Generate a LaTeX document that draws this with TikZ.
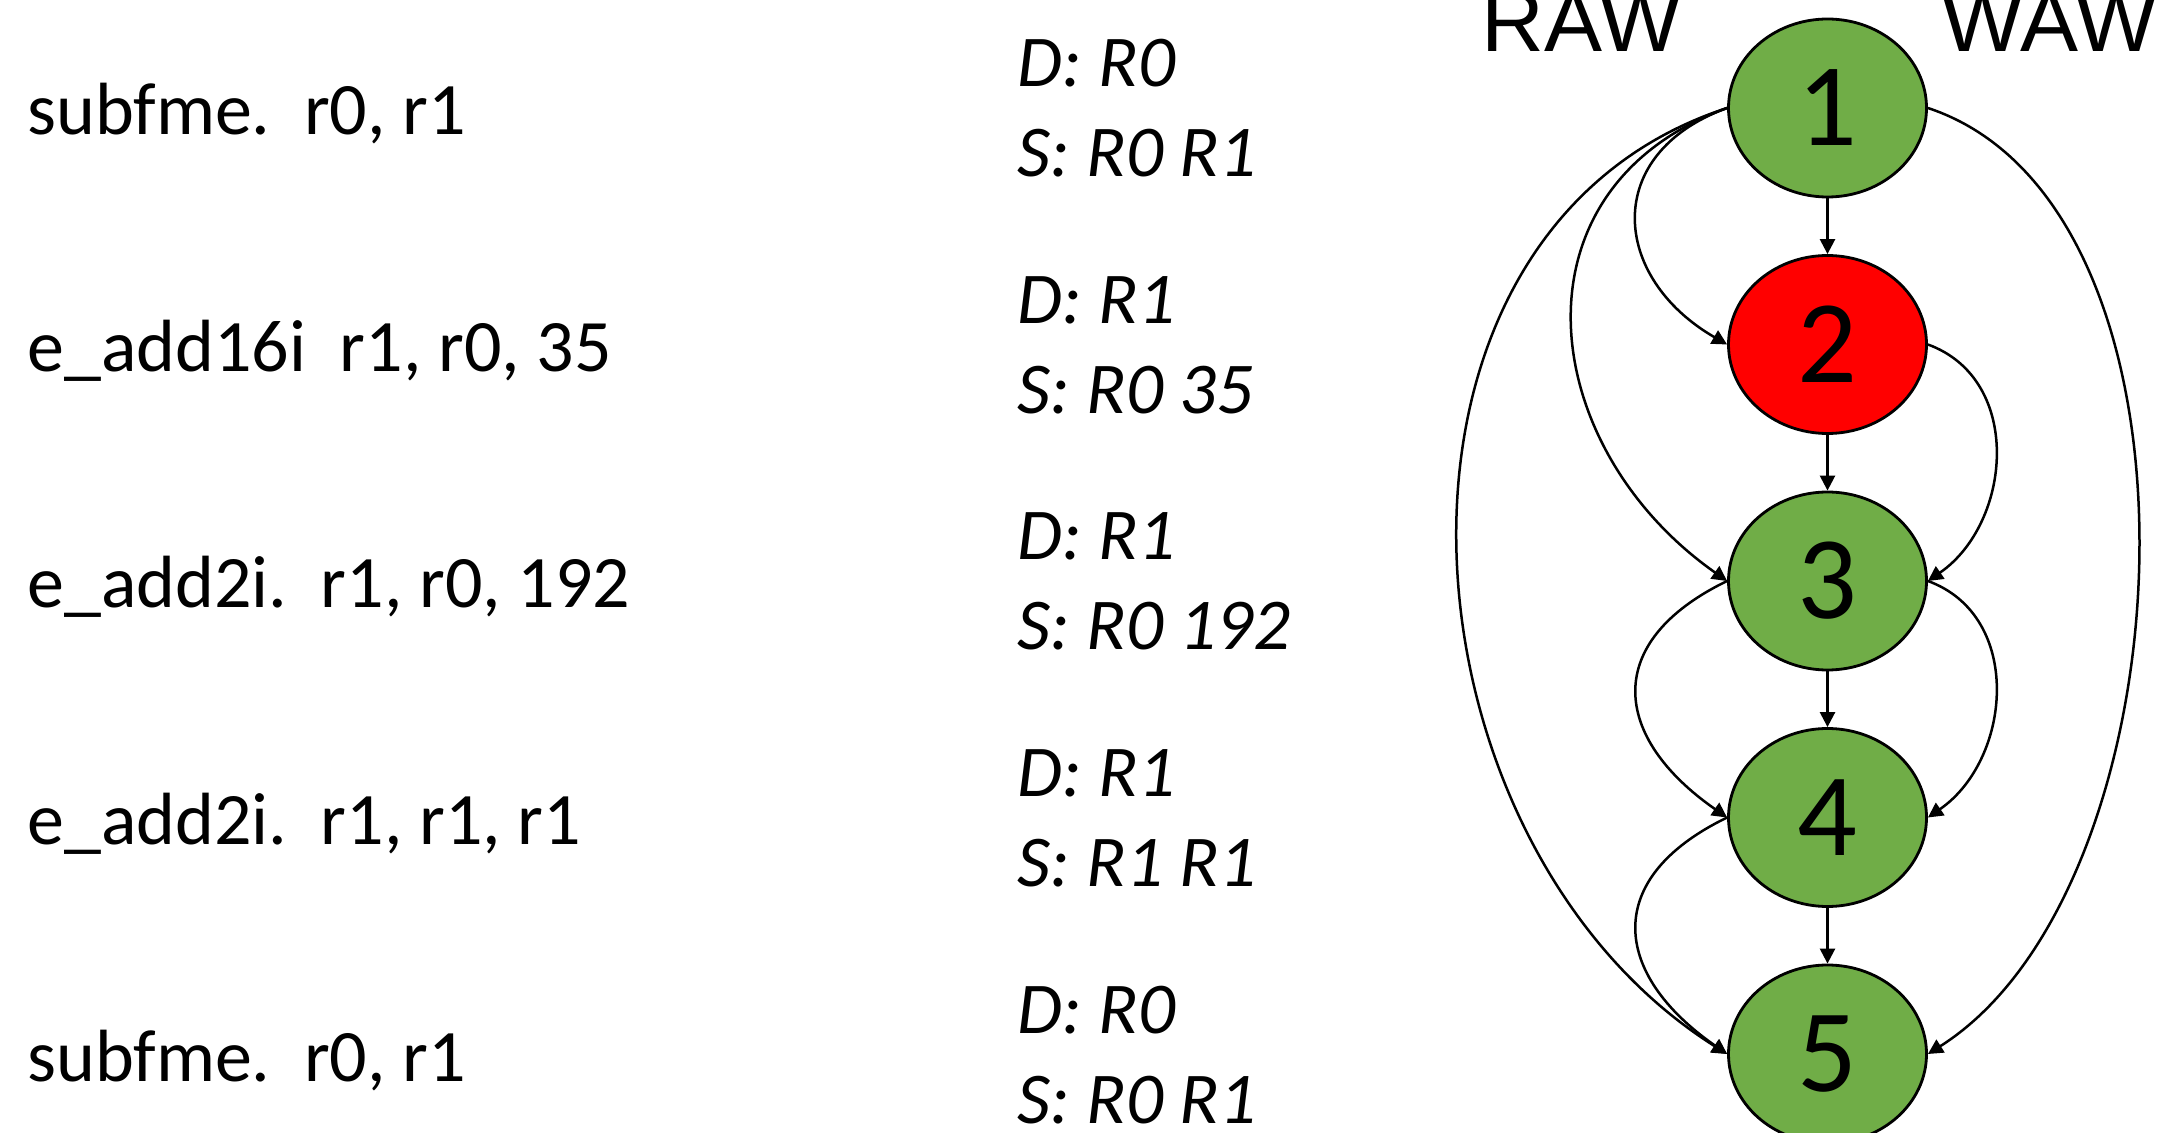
\documentclass[tikz,border=0pt]{standalone}
\usepackage{fontspec}
\setmainfont{Carlito}
\newfontfamily\arialfont{Liberation Sans}
\usetikzlibrary{shapes.geometric,arrows.meta}
\definecolor{ngreen}{HTML}{70AD47}
\definecolor{nred}{HTML}{FF0000}
\begin{document}
\begin{tikzpicture}[x=0.5pt,y=-0.5pt,
  gnode/.style={ellipse, draw=black, line width=1.4pt, minimum width=99pt, minimum height=89pt, inner sep=0pt, font=\fontsize{59}{59}\selectfont},
  edge/.style={line width=1.25pt, -{Triangle[length=7.5pt,width=7.5pt]}},
  instr/.style={anchor=base west, inner sep=0pt, font=\fontsize{37}{37}\selectfont},
  dep/.style={anchor=base west, inner sep=0pt, font=\fontsize{36.5}{36.5}\selectfont\itshape},
  hdr/.style={anchor=base west, inner sep=0pt, font=\arialfont\fontsize{43.5}{43.5}\selectfont}]
\useasboundingbox (0,0) rectangle (2175,1133);

% instructions
\node[instr] (i1) at (27,135) {subfme.\ \ r0, r1};
\node[instr] (i2) at (27,371.5) {e\_add16i\ \ r1, r0, 35};
\node[instr] (i3) at (27,608) {e\_add2i.\ \ r1, r0, 192};
\node[instr] (i4) at (27,844.5) {e\_add2i.\ \ r1, r1, r1};
\node[instr] (i5) at (27,1081) {subfme.\ \ r0, r1};

% dependencies
\node[dep] (d1) at (1017,87) {D: R0};
\node[dep] (s1) at (1017,177) {S: R0 R1};
\node[dep] (d2) at (1017,323.5) {D: R1};
\node[dep] (s2) at (1017,413.5) {S: R0 35};
\node[dep] (d3) at (1017,560) {D: R1};
\node[dep] (s3) at (1017,650) {S: R0 192};
\node[dep] (d4) at (1017,796.5) {D: R1};
\node[dep] (s4) at (1017,886.5) {S: R1 R1};
\node[dep] (d5) at (1017,1033) {D: R0};
\node[dep] (s5) at (1017,1123) {S: R0 R1};

% headers
\node[hdr] (raw) at (1481,52) {RAW};
\node[hdr] (waw) at (1941,52) {WAW};

% graph nodes
\node[gnode, fill=ngreen] (n1) at (1827.5,108) {1};
\node[gnode, fill=nred] (n2) at (1827.5,344.5) {2};
\node[gnode, fill=ngreen] (n3) at (1827.5,581) {3};
\node[gnode, fill=ngreen] (n4) at (1827.5,817.5) {4};
\node[gnode, fill=ngreen] (n5) at (1827.5,1054) {5};

% straight edges
\draw[edge] (n1) -- (n2);
\draw[edge] (n2) -- (n3);
\draw[edge] (n3) -- (n4);
\draw[edge] (n4) -- (n5);

% left (RAW) curves
\draw[edge] (n1.west) .. controls +(-126,46) and +(-116,-67) .. (n2.west);
\draw[edge] (n1.west) .. controls +(-221,80) and +(-192,-135) .. (n3.west);
\draw[edge] (n1.west) .. controls +(-380,124) and +(-338,-213) .. (n5.west);
\draw[edge] (n3.west) .. controls +(-126,61) and +(-115,-80) .. (n4.west);
\draw[edge] (n4.west) .. controls +(-126,61) and +(-115,-80) .. (n5.west);

% right (WAW) curves
\draw[edge] (n2.east) .. controls +(96,35) and +(84,-58) .. (n3.east);
\draw[edge] (n3.east) .. controls +(96,35) and +(84,-58) .. (n4.east);
\draw[edge] (n1.east) .. controls +(296,98) and +(264,-167) .. (n5.east);
\end{tikzpicture}
\end{document}
